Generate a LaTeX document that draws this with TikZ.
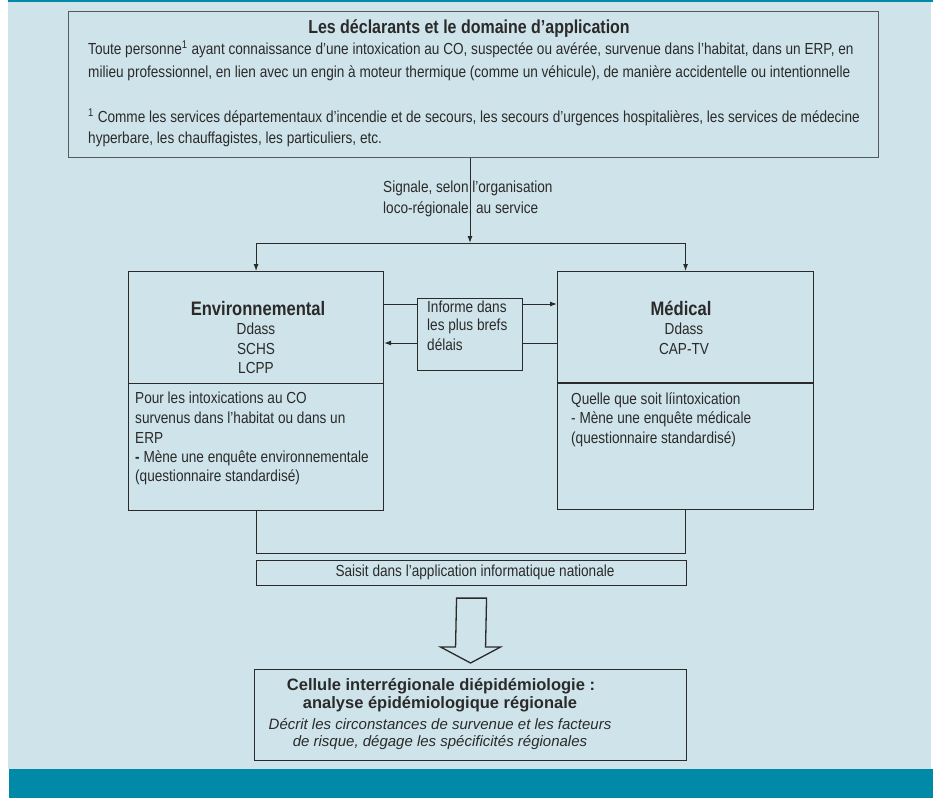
\documentclass[tikz,border=0pt]{standalone}
\usepackage{fontspec}
\setmainfont{Liberation Sans}[FakeStretch=0.85]
\newfontfamily\wideit{Liberation Sans}[FakeStretch=1.0]
\usetikzlibrary{arrows.meta,calc}
\definecolor{bgblue}{HTML}{CFE4EA}
\definecolor{bandteal}{HTML}{008AA8}
\definecolor{ink}{HTML}{2A2A2A}
\definecolor{boxgrey}{HTML}{555A5C}
\tikzset{
  box/.style={draw=ink, line width=1.1pt, inner sep=0pt, anchor=north west},
  txt/.style={inner sep=0pt, anchor=west, text=ink},
  ctxt/.style={inner sep=0pt, text=ink},
  head/.style={ctxt, font=\bfseries\fontsize{19.5}{22}\selectfont},
  ln/.style={draw=ink, line width=1pt},
  arr/.style={draw=ink, line width=1pt, -{Latex[length=7pt,width=5pt]}},
  bigarrow/.style={draw=ink, line width=1.3pt, line join=miter}
}
\begin{document}
\begin{tikzpicture}[x=1pt,y=-1pt, font=\fontsize{16}{18}\selectfont]
\useasboundingbox (0,0) rectangle (933,798);
\fill[white] (0,0) rectangle (933,798);
\fill[bgblue] (8,0) rectangle (931,769);
\fill[bandteal] (8,0) rectangle (933,2);
\fill[bandteal] (9,769) rectangle (933,798);

% boxes
\node[box, draw=boxgrey, minimum width=810pt, minimum height=146pt] (top) at (68,11) {};
\node[box, minimum width=255pt, minimum height=239pt] (env) at (128,271) {};
\node[box, minimum width=256pt, minimum height=238pt] (med) at (557,271) {};
\node[box, minimum width=105pt, minimum height=72pt] (info) at (417,298) {};
\node[box, minimum width=430pt, minimum height=25pt] (saisit) at (256,560) {};
\node[box, minimum width=432pt, minimum height=91pt] (cell) at (254,669) {};

% top box text
\node[ctxt, font=\bfseries\fontsize{18.8}{21}\selectfont] (title) at (469,29) {Les déclarants et le domaine d’application};
\node[txt] (l1) at (88,49) {Toute personne\textsuperscript{1} ayant connaissance d’une intoxication au CO, suspectée ou avérée, survenue dans l’habitat, dans un ERP, en};
\node[txt] (l2) at (88,73) {milieu professionnel, en lien avec un engin à moteur thermique (comme un véhicule), de manière accidentelle ou intentionnelle};
\node[txt] (f1) at (88,117) {\textsuperscript{1} Comme les services départementaux d’incendie et de secours, les secours d’urgences hospitalières, les services de médecine};
\node[txt] (f2) at (88,139) {hyperbare, les chauffagistes, les particuliers, etc.};

% signal
\coordinate (split) at (470,243);
\node[txt] (sig1) at (383,188) {Signale, selon l’organisation};
\node[txt] (sig2) at (383,209) {loco-régionale, au service};
\draw[arr] (top.south -| split) -- (split);
\draw[ln] (split -| env.north) -- (split -| med.north);
\draw[arr] (split -| env.north) -- (env.north);
\draw[arr] (split -| med.north) -- (med.north);

% env box
\coordinate (div) at (0,383);
\draw[ln] (env.west |- div) -- (env.east |- div);
\node[head] (envt) at (258,309) {Environnemental};
\node[ctxt] (e1) at (256,329) {Ddass};
\node[ctxt] (e2) at (256,349) {SCHS};
\node[ctxt] (e3) at (256,368) {LCPP};
\node[txt] (e4) at (135,398) {Pour les intoxications au CO};
\node[txt] (e5) at (135,418) {survenus dans l’habitat ou dans un};
\node[txt] (e6) at (135,438) {ERP};
\node[txt] (e7) at (135,458) {\textbf{-} Mène une enquête environnementale};
\node[txt] (e8) at (135,477) {(questionnaire standardisé)};

% med box
\draw[ln, line width=1.5pt] (med.west |- div) -- (med.east |- div);
\node[head] (medt) at (681,308) {Médical};
\node[ctxt] (m1) at (684,329) {Ddass};
\node[ctxt] (m2) at (684,349) {CAP-TV};
\node[txt] (m3) at (571,400) {Quelle que soit líintoxication};
\node[txt] (m4) at (571,419) {- Mène une enquête médicale};
\node[txt] (m5) at (571,439) {(questionnaire standardisé)};

% info box
\node[txt] (i1) at (427,307) {Informe dans};
\node[txt] (i2) at (427,326) {les plus brefs};
\node[txt] (i3) at (427,345) {délais};
\coordinate (r1) at (0,304);
\coordinate (r2) at (0,343);
\draw[ln] (env.east |- r1) -- (info.west |- r1);
\draw[arr] (info.east |- r1) -- (med.west |- r1);
\draw[ln] (med.west |- r2) -- (info.east |- r2);
\draw[arr] (info.west |- r2) -- (env.east |- r2);

% join
\coordinate (jy) at (0,553);
\draw[ln] (env.south) -- (env.south |- jy) -- (med.south |- jy) -- (med.south);
\node[ctxt] (st) at (475,572) {Saisit dans l’application informatique nationale};

% big arrow
\coordinate (bt) at ($(saisit.south)+(0,12)$);
\coordinate (bb) at ($(cell.north)+(0,-6)$);
\draw[bigarrow] ($(bt)+(-15,0)$) -- ($(bt)+(15,0)$) -- ($(bb)+(15,-16)$) -- ($(bb)+(30,-16)$) -- (bb) -- ($(bb)+(-30,-16)$) -- ($(bb)+(-15,-16)$) -- cycle;

% cell
\node[ctxt, font=\wideit\bfseries\fontsize{16.5}{19}\selectfont] (c1) at (441,686) {Cellule interrégionale diépidémiologie :};
\node[ctxt, font=\wideit\bfseries\fontsize{16.5}{19}\selectfont] (c2) at (440,704) {analyse épidémiologique régionale};
\node[ctxt, font=\wideit\itshape\fontsize{15}{17}\selectfont] (c3) at (440,724) {Décrit les circonstances de survenue et les facteurs};
\node[ctxt, font=\wideit\itshape\fontsize{15}{17}\selectfont] (c4) at (440,743) {de risque, dégage les spécificités régionales};
\end{tikzpicture}
\end{document}
